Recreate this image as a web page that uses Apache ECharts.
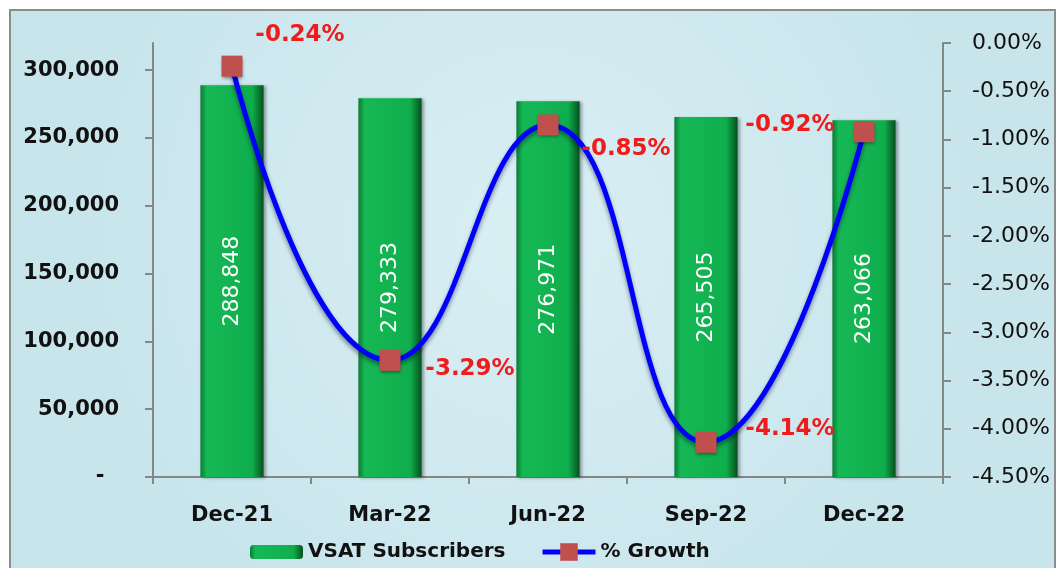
<!DOCTYPE html>
<html>
<head>
<meta charset="utf-8">
<script src="https://cdn.jsdelivr.net/npm/echarts@6/dist/echarts.min.js"></script>
<style>
html,body{margin:0;padding:0;background:#fff;}
#c{width:1059px;height:568px;}
</style>
</head>
<body>
<div id="c"></div>
<script>
const categories = ['Dec-21', 'Mar-22', 'Jun-22', 'Sep-22', 'Dec-22'];
const subscribers = [288848, 279333, 276971, 265505, 263066];
const growth = [-0.24, -3.29, -0.85, -4.14, -0.92];
const leftTicks = [0, 50000, 100000, 150000, 200000, 250000, 300000];
const growthLabelOffsets = [[68, -31], [80, 9], [78, 24], [84, -13], [-74, -7]];

const FONT = 'DejaVu Sans';
const fmt = v => v.toString().replace(/\B(?=(\d{3})+(?!\d))/g, ',');
const legendText = { fontFamily: FONT, fontWeight: 'bold', fontSize: 20, color: '#111' };

const chart = echarts.init(document.getElementById('c'));
chart.setOption({
  animation: false,
  textStyle: { fontFamily: FONT },
  graphic: [{
    type: 'rect', z: -10, silent: true,
    shape: { x: 10, y: 10, width: 1045, height: 562 },
    style: {
      fill: new echarts.graphic.RadialGradient(0.5, 0.4, 0.8, [
        { offset: 0, color: '#d9eff4' },
        { offset: 1, color: '#c8e5ec' }
      ]),
      stroke: '#8c8c8c', lineWidth: 2
    }
  }],
  grid: { left: 153, right: 116, top: 43, bottom: 91 },
  legend: [{
    left: 245, top: 537,
    itemWidth: 53, itemHeight: 14,
    textStyle: legendText,
    data: ['VSAT Subscribers']
  }, {
    left: 535, top: 537,
    itemWidth: 53, itemHeight: 22,
    textStyle: legendText,
    data: [{ name: '% Growth', lineStyle: { width: 5 } }]
  }],
  xAxis: {
    type: 'category',
    data: categories,
    axisLine: { lineStyle: { color: '#868686', width: 2 } },
    axisTick: { show: true, length: 7, lineStyle: { color: '#868686', width: 2 } },
    axisLabel: { fontFamily: FONT, fontWeight: 'bold', fontSize: 21, color: '#111', margin: 28 }
  },
  yAxis: [{
    type: 'value', min: 0, max: 320000, interval: 50000,
    splitLine: { show: false },
    axisLine: { show: true, lineStyle: { color: '#868686', width: 2 } },
    axisTick: { show: true, length: 8, customValues: leftTicks, lineStyle: { color: '#868686', width: 2 } },
    axisLabel: {
      customValues: leftTicks,
      fontFamily: FONT, fontWeight: 'bold', fontSize: 21, color: '#111', margin: 34,
      formatter: v => v === 0 ? '-  ' : fmt(v)
    }
  }, {
    type: 'value', min: -4.5, max: 0, interval: 0.5,
    position: 'right',
    splitLine: { show: false },
    axisLine: { show: true, lineStyle: { color: '#868686', width: 2 } },
    axisTick: { show: true, length: 8, lineStyle: { color: '#868686', width: 2 } },
    axisLabel: {
      fontFamily: FONT, fontSize: 22, color: '#111', margin: 29,
      formatter: v => v.toFixed(2) + '%'
    }
  }],
  series: [{
    name: 'VSAT Subscribers',
    type: 'bar',
    yAxisIndex: 0,
    barWidth: '40%',
    data: subscribers,
    itemStyle: {
      color: new echarts.graphic.LinearGradient(0, 0, 1, 0, [
        { offset: 0, color: '#0a7a33' },
        { offset: 0.1, color: '#16b856' },
        { offset: 0.82, color: '#0fae4c' },
        { offset: 1, color: '#05501e' }
      ]),
      shadowColor: 'rgba(0,0,0,0.35)', shadowBlur: 3, shadowOffsetX: 2, shadowOffsetY: 1
    },
    label: {
      show: true, position: 'inside', rotate: 90,
      fontFamily: FONT, fontSize: 22, color: '#ffffff',
      formatter: p => fmt(p.value)
    }
  }, {
    name: '% Growth',
    type: 'line',
    yAxisIndex: 1,
    smooth: 0.5,
    symbol: 'rect',
    symbolSize: 21,
    z: 5,
    data: growth.map((v, i) => ({
      value: v,
      label: { offset: growthLabelOffsets[i] }
    })),
    lineStyle: { color: '#0000ff', width: 5, shadowColor: 'rgba(0,0,40,0.45)', shadowBlur: 4, shadowOffsetY: 3 },
    itemStyle: { color: '#c0504d', shadowColor: 'rgba(0,0,0,0.4)', shadowBlur: 3, shadowOffsetY: 2 },
    label: {
      show: true, position: 'inside',
      fontFamily: FONT, fontWeight: 'bold', fontSize: 23, color: '#ee1c1c',
      formatter: p => p.value.toFixed(2) + '%'
    }
  }]
});
</script>
</body>
</html>
